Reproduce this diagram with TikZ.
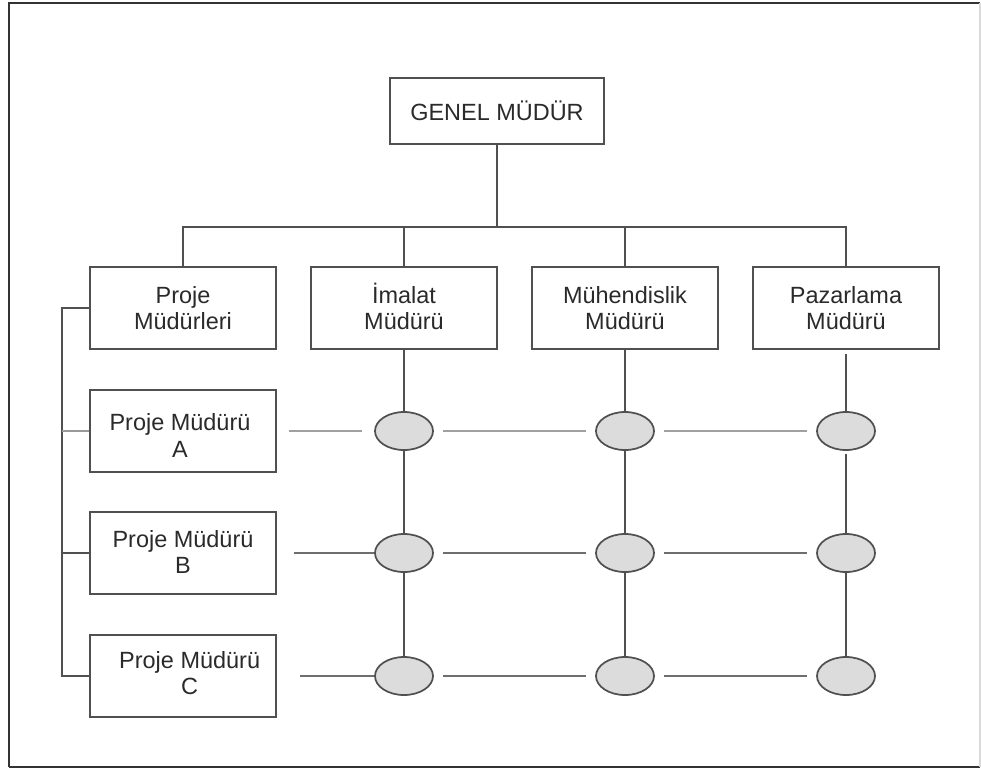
\documentclass[tikz,border=0pt]{standalone}
\usepackage{fontspec}
\setmainfont{Liberation Sans}
\usetikzlibrary{shapes.geometric}
\definecolor{ink}{HTML}{2A2A2A}
\definecolor{edge}{HTML}{505050}
\definecolor{wire}{HTML}{505050}
\definecolor{rowline}{HTML}{6E6E6E}
\definecolor{rowlight}{HTML}{A0A0A0}
\definecolor{cellfill}{HTML}{DCDCDC}
% two-line label: #1 strut above first baseline, #2 strut below last baseline
\newcommand\twolines[4]{\rule{0pt}{#1}#3\\#4\rule[-#2]{0pt}{#2}}
\begin{document}
\begin{tikzpicture}[x=0.75pt,y=-0.75pt,
  font=\fontsize{17.6}{20}\selectfont,
  box/.style={draw=edge,line width=1.4pt,rectangle,align=center,text=ink,
    minimum width=139.5pt,minimum height=61.5pt,inner sep=0pt},
  topbox/.style={box,minimum width=160.5pt,minimum height=49.5pt},
  cell/.style={draw=edge,line width=1.3pt,ellipse,fill=cellfill,
    minimum width=43.5pt,minimum height=28.5pt,inner sep=0pt},
  wireline/.style={draw=wire,line width=1.4pt},
  rowwire/.style={draw=rowline,line width=1.8pt},
  rowfaint/.style={draw=rowlight,line width=1.8pt},
  framebar/.style={draw=black!80,line width=2.2pt}]
\useasboundingbox (0,0) rectangle (981,769);

% outer frame
\draw[framebar] (9,767) -- (9,3) -- (980,3);
\draw[framebar] (9,767) -- (980,767);
\draw[draw=black!15,line width=0.8pt] (980,3) -- (980,767);

% top of the hierarchy
\node[topbox] (gm) at (497,111) {GENEL MÜDÜR};

% functional managers
\node[box] (pm) at (183,308) {\twolines{17pt}{4.5pt}{Proje}{Müdürleri}};
\node[box] (im) at (404,308) {\twolines{17pt}{4.5pt}{İmalat}{Müdürü}};
\node[box] (mu) at (625,308) {\twolines{17pt}{4.5pt}{Mühendislik}{Müdürü}};
\node[box] (pz) at (846,308) {\twolines{17pt}{4.5pt}{Pazarlama}{Müdürü}};

% project managers
\node[box] (pa) at (183,431)
  {\twolines{19.4pt}{0pt}{Proje Müdürü\hspace*{4.5pt}}{A\hspace*{4.5pt}}};
\node[box] (pb) at (183,553) {\twolines{16pt}{5pt}{Proje Müdürü}{B}};
\node[box] (pc) at (183,676)
  {\twolines{14pt}{6pt}{\hspace*{10pt}Proje Müdürü}{\hspace*{10pt}C}};

% matrix cells
\foreach \c/\x in {I/404,M/625,P/846}{
  \node[cell] (e\c A) at (\x,431) {};
  \node[cell] (e\c B) at (\x,553) {};
  \node[cell] (e\c C) at (\x,676) {};
}

% bus from the general manager
\coordinate (bus) at (497,227);
\draw[wireline] (gm.south) -- (bus);
\draw[wireline] (pm.north) |- (bus);
\draw[wireline] (pz.north) |- (bus);
\draw[wireline] (im.north) -- (im.north |- bus);
\draw[wireline] (mu.north) -- (mu.north |- bus);

% bracket joining the project managers
\coordinate (rail) at (62,308);
\draw[wireline] (pm.west) -- (rail) |- (pc.west);
\draw[draw=black!40,line width=1.4pt] (rail |- pa.west) -- (pa.west);
\draw[wireline] (rail |- pb.west) -- (pb.west);

% columns through the cells
\draw[wireline] (im.south) -- (eIA.north);
\draw[wireline] (eIA.south) -- (eIB.north);
\draw[wireline] (eIB.south) -- (eIC.north);
\draw[wireline] (mu.south) -- (eMA.north);
\draw[wireline] (eMA.south) -- (eMB.north);
\draw[wireline] (eMB.south) -- (eMC.north);
\draw[wireline,shorten <=3pt] (pz.south) -- (ePA.north);
\draw[wireline,shorten <=2pt] (ePA.south) -- (ePB.north);
\draw[wireline] (ePB.south) -- (ePC.north);

% rows through the cells
\draw[rowfaint,shorten <=9pt,shorten >=9pt] (pa.east) -- (eIA.west);
\draw[rowfaint,shorten <=7pt,shorten >=7pt] (eIA.east) -- (eMA.west);
\draw[rowfaint,shorten <=7pt,shorten >=7pt] (eMA.east) -- (ePA.west);
\draw[rowwire,shorten <=13pt] (pb.east) -- (eIB.west);
\draw[rowwire,shorten <=7pt,shorten >=7pt] (eIB.east) -- (eMB.west);
\draw[rowwire,shorten <=7pt,shorten >=7pt] (eMB.east) -- (ePB.west);
\draw[rowwire,shorten <=17pt] (pc.east) -- (eIC.west);
\draw[rowwire,shorten <=7pt,shorten >=7pt] (eIC.east) -- (eMC.west);
\draw[rowwire,shorten <=7pt,shorten >=7pt] (eMC.east) -- (ePC.west);
\end{tikzpicture}
\end{document}
